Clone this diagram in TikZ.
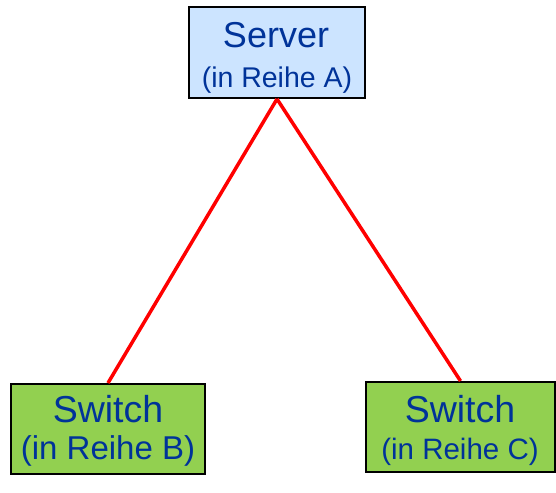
\documentclass[tikz,border=0pt]{standalone}
\usepackage{fontspec}
\setmainfont{Liberation Sans}
\definecolor{txtblue}{RGB}{0,51,153}
\definecolor{srvfill}{RGB}{204,228,255}
\definecolor{swfill}{RGB}{146,208,80}
\definecolor{linered}{RGB}{255,0,0}
\tikzset{
  boxbase/.style={draw=black, line width=2pt, rectangle, inner sep=0pt},
  srvbox/.style={boxbase, fill=srvfill},
  swbox/.style={boxbase, fill=swfill},
  lbl/.style={anchor=base, inner sep=0pt, text=txtblue},
  conn/.style={draw=linered, line width=3.5pt},
}
\begin{document}
\begin{tikzpicture}[x=1pt,y=1pt]
\useasboundingbox (0,0) rectangle (556,492);
\node[srvbox, minimum width=176pt, minimum height=91pt] (srv) at (277,439.5) {};
\node[swbox, minimum width=194pt, minimum height=90pt] (swb) at (108,63) {};
\node[swbox, minimum width=189pt, minimum height=90pt] (swc) at (460.5,65) {};
\draw[conn] (srv.south) -- (swb.north);
\draw[conn] (srv.south) -- (swc.north);
\node[lbl, font=\fontsize{36}{36}\selectfont] (srvt) at (276,444) {Server};
\node[lbl, font=\fontsize{28.5}{28.5}\selectfont] (srvs) at (277,404) {(in Reihe A)};
\node[lbl, font=\fontsize{37.5}{37.5}\selectfont] (swbt) at (108,69) {Switch};
\node[lbl, font=\fontsize{33}{33}\selectfont] (swbs) at (108,32) {(in Reihe B)};
\node[lbl, font=\fontsize{37.5}{37.5}\selectfont] (swct) at (460,69) {Switch};
\node[lbl, font=\fontsize{29.5}{29.5}\selectfont] (swcs) at (460,33) {(in Reihe C)};
\end{tikzpicture}
\end{document}
